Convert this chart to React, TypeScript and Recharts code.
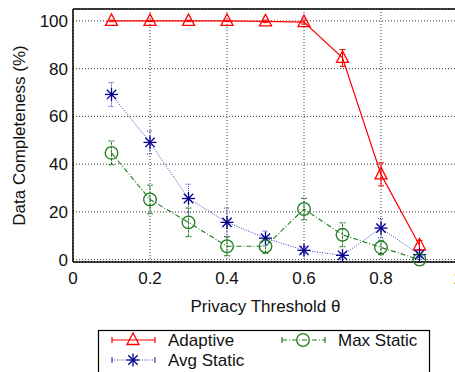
import React from "react";
import {
  LineChart, Line, XAxis, YAxis, CartesianGrid, ErrorBar, ReferenceLine,
} from "recharts";

const thresholds = [0.1, 0.2, 0.3, 0.4, 0.5, 0.6, 0.7, 0.8, 0.9];
const adaptive = [100, 100, 100, 100, 99.8, 99.5, 84.5, 35.7, 6];
const adaptiveErr = [0.3, 0.3, 0.3, 0.3, 0.5, 0.8, 3.5, 4.8, 2];
const avgStatic = [69.2, 49.1, 25.6, 15.6, 9, 3.9, 1.8, 13.2, 2.1];
const avgStaticErr = [5, 4.8, 6, 6, 3, 1.5, 1, 4, 2];
const maxStatic = [44.7, 25.2, 15.6, 5.6, 5.6, 21.2, 10.4, 5.1, 0];
const maxStaticErr = [5, 6, 6, 4, 3, 4.5, 5, 3, 1];
const xTicks = [0, 0.2, 0.4, 0.6, 0.8, 1];
const yTicks = [0, 20, 40, 60, 80, 100];

const data = thresholds.map((t, i) => ({
  t,
  adaptive: adaptive[i],
  adaptiveErr: adaptiveErr[i],
  avg: avgStatic[i],
  avgErr: avgStaticErr[i],
  max: maxStatic[i],
  maxErr: maxStaticErr[i],
}));

const RED = "#ff0000";
const NAVY = "#00008b";
const BLUE = "#3a3ac8";
const GREEN = "#1e7b1e";
const FONT = "'Liberation Sans', Arial, Helvetica, sans-serif";

const triangle = (cx: number, cy: number, key?: string) => (
  <polygon
    key={key}
    points={`${cx},${cy - 7} ${cx - 6},${cy + 4.5} ${cx + 6},${cy + 4.5}`}
    fill="none"
    stroke={RED}
    strokeWidth={1.3}
  />
);

const star = (cx: number, cy: number, key?: string) => {
  const r = 6.5;
  const d = r * 0.72;
  return (
    <g key={key} stroke={NAVY} strokeWidth={1.3}>
      <line x1={cx} y1={cy - r} x2={cx} y2={cy + r} />
      <line x1={cx - r} y1={cy} x2={cx + r} y2={cy} />
      <line x1={cx - d} y1={cy - d} x2={cx + d} y2={cy + d} />
      <line x1={cx - d} y1={cy + d} x2={cx + d} y2={cy - d} />
    </g>
  );
};

const circle = (cx: number, cy: number, key?: string) => (
  <circle key={key} cx={cx} cy={cy} r={6.3} fill="none" stroke={GREEN} strokeWidth={1.3} />
);

const YLabel = (props: any) => {
  const vb = props.viewBox || {};
  const cx = 19;
  const cy = vb.y + vb.height / 2;
  return (
    <text
      x={cx}
      y={cy}
      transform={`rotate(-90, ${cx}, ${cy})`}
      textAnchor="middle"
      dominantBaseline="central"
      fontFamily={FONT}
      fontSize={17}
      fill="#111"
    >
      Data Completeness (%)
    </text>
  );
};

const LegendRow = ({ x, y, color, dash, marker, label }: any) => (
  <g>
    <line x1={x} y1={y} x2={x + 43} y2={y} stroke={color} strokeWidth={1.2} strokeDasharray={dash} />
    <line x1={x} y1={y - 3} x2={x} y2={y + 3} stroke={color} strokeWidth={1.2} />
    <line x1={x + 43} y1={y - 3} x2={x + 43} y2={y + 3} stroke={color} strokeWidth={1.2} />
    {marker(x + 21, y)}
    <text x={x + 56} y={y} dominantBaseline="central" fontFamily={FONT} fontSize={17} fill="#111">
      {label}
    </text>
  </g>
);

export default function App() {
  return (
    <div
      style={{
        position: "absolute", left: 0, top: 0, width: 455, height: 372,
        overflow: "hidden", background: "#fff",
      }}
    >
      <LineChart
        width={470}
        height={372}
        data={data}
        margin={{ top: 9, right: 12, left: 13, bottom: 60 }}
      >
        <CartesianGrid stroke="#222" strokeDasharray="1 2" strokeWidth={0.9} />
        <XAxis
          dataKey="t"
          type="number"
          domain={[0, 1]}
          ticks={xTicks}
          tickFormatter={(v: number) => (v === 0 || v === 1 ? String(v) : v.toFixed(1))}
          height={50}
          tickLine={false}
          tickMargin={4}
          axisLine={{ stroke: "#000", strokeWidth: 1.5 }}
          tick={{ fontFamily: FONT, fontSize: 17, fill: "#111" }}
          label={{
            value: "Privacy Threshold θ",
            position: "insideBottom",
            offset: 0,
            fontFamily: FONT,
            fontSize: 17,
            fill: "#111",
          }}
        />
        <YAxis
          type="number"
          domain={[0, 105]}
          ticks={yTicks}
          width={60}
          tickLine={false}
          tickSize={3}
          axisLine={{ stroke: "#000", strokeWidth: 1.5 }}
          tick={{ fontFamily: FONT, fontSize: 17, fill: "#111" }}
          label={<YLabel />}
        />
        <ReferenceLine y={105} stroke="#000" strokeWidth={1.5} />
        <ReferenceLine x={1} stroke="#000" strokeWidth={1.5} />
        <Line
          dataKey="adaptive"
          stroke={RED}
          strokeWidth={1.2}
          isAnimationActive={false}
          dot={(p: any) => triangle(p.cx, p.cy, `a${p.index}`)}
        >
          <ErrorBar dataKey="adaptiveErr" width={3} stroke={RED} strokeWidth={1} />
        </Line>
        <Line
          dataKey="avg"
          stroke={BLUE}
          strokeWidth={1}
          strokeDasharray="1 1.5"
          isAnimationActive={false}
          dot={(p: any) => star(p.cx, p.cy, `s${p.index}`)}
        >
          <ErrorBar dataKey="avgErr" width={3} stroke={BLUE} strokeWidth={1} strokeDasharray="1 1" />
        </Line>
        <Line
          dataKey="max"
          stroke={GREEN}
          strokeWidth={1.1}
          strokeDasharray="5 2 1 2"
          isAnimationActive={false}
          dot={(p: any) => circle(p.cx, p.cy, `c${p.index}`)}
        >
          <ErrorBar dataKey="maxErr" width={3} stroke={GREEN} strokeWidth={1} strokeDasharray="3 1" />
        </Line>
      </LineChart>
      <svg
        width={455}
        height={372}
        style={{ position: "absolute", left: 0, top: 0, pointerEvents: "none" }}
      >
        <rect x={98.5} y={330.5} width={331} height={60} fill="#fff" stroke="#000" strokeWidth={1.2} />
        <LegendRow x={112} y={340} color={RED} marker={triangle} label="Adaptive" />
        <LegendRow x={112} y={360} color={BLUE} dash="1 1.5" marker={star} label="Avg Static" />
        <LegendRow x={282} y={340} color={GREEN} dash="5 2 1 2" marker={circle} label="Max Static" />
      </svg>
    </div>
  );
}
